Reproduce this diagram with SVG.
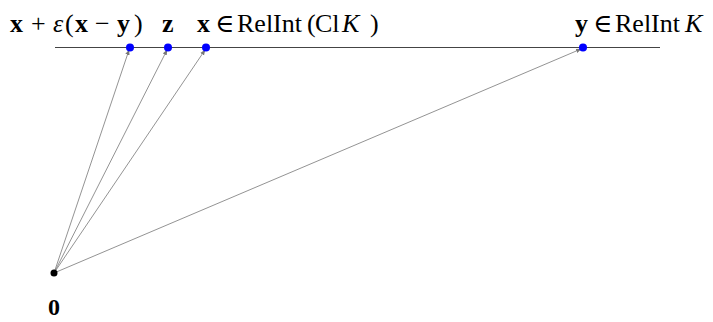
<svg xmlns="http://www.w3.org/2000/svg" width="713" height="322" viewBox="0 0 713 322">
<defs>
<style>
.t{font-family:"Liberation Serif","DejaVu Serif",serif;font-size:26px;fill:#000}
.b{font-weight:bold}
.i{font-style:italic}
.ray{stroke:#777;stroke-width:0.8;fill:none}
.pt{fill:#0000ff}
</style>
<marker id="ah" viewBox="0 0 10 10" refX="9" refY="5" markerWidth="7" markerHeight="7" orient="auto"><path d="M0,1 L10,5 L0,9 z" fill="#777"/></marker>
</defs>
<g id="line"><line x1="55" y1="47.5" x2="660" y2="47.5" stroke="#444" stroke-width="1"/></g>
<g id="connectors">
<line class="ray" x1="54" y1="273" x2="129" y2="50" marker-end="url(#ah)"/>
<line class="ray" x1="54" y1="273" x2="167" y2="50" marker-end="url(#ah)"/>
<line class="ray" x1="54" y1="273" x2="205" y2="50" marker-end="url(#ah)"/>
<line class="ray" x1="54" y1="273" x2="581" y2="49" marker-end="url(#ah)"/>
</g>
<g id="p1"><circle class="pt" cx="130" cy="47.5" r="4"/><text class="t" y="32"><tspan class="b" x="10">x</tspan><tspan x="31">+</tspan><tspan class="i" x="53">ε</tspan><tspan x="65">(</tspan><tspan class="b" x="75">x</tspan><tspan x="95">−</tspan><tspan class="b" x="117">y</tspan><tspan x="134">)</tspan></text></g>
<g id="z"><circle class="pt" cx="168" cy="47.5" r="4"/><text class="t b" x="162" y="32">z</text></g>
<g id="x"><circle class="pt" cx="206" cy="47.5" r="4"/><text class="t" y="32"><tspan class="b" x="197">x</tspan><tspan x="215">∈</tspan><tspan x="237">RelInt</tspan><tspan x="307">(</tspan><tspan x="315">Cl</tspan><tspan class="i" x="342">K</tspan><tspan x="370">)</tspan></text></g>
<g id="y"><circle class="pt" cx="583" cy="47.5" r="4"/><text class="t" y="32"><tspan class="b" x="575">y</tspan><tspan x="593">∈</tspan><tspan x="615">RelInt</tspan><tspan class="i" x="685">K</tspan></text></g>
<g id="origin"><circle cx="54" cy="273" r="3.5" fill="#000"/><text class="t b" x="48" y="315" style="font-size:24px">0</text></g>
</svg>
